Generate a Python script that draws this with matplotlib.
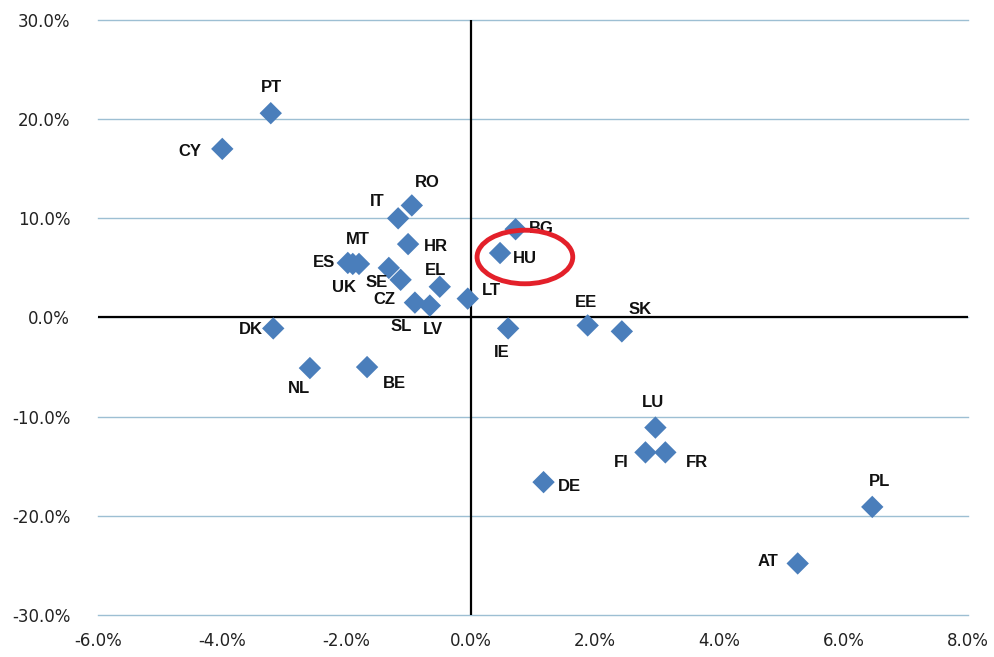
import matplotlib
matplotlib.use("Agg")
from matplotlib import pyplot as plt
from matplotlib.patches import Ellipse
from matplotlib.ticker import FuncFormatter

countries = ["PT", "CY", "RO", "IT", "HR", "MT", "ES", "UK", "SE", "CZ", "EL", "SL", "LV", "LT",
             "BG", "HU", "IE", "EE", "SK", "DK", "NL", "BE", "LU", "FI", "FR", "DE", "PL", "AT"]
x_vals = [-3.22, -4.0, -0.95, -1.17, -1.01, -1.8, -1.98, -1.9, -1.32, -1.13, -0.5, -0.9, -0.66, -0.05,
          0.72, 0.47, 0.6, 1.88, 2.43, -3.18, -2.59, -1.67, 2.97, 2.81, 3.13, 1.17, 6.46, 5.26]
y_vals = [20.6, 17.0, 11.3, 10.0, 7.4, 5.4, 5.5, 5.4, 5.0, 3.8, 3.1, 1.5, 1.2, 1.9,
          8.9, 6.5, -1.1, -0.8, -1.4, -1.1, -5.1, -5.0, -11.1, -13.6, -13.6, -16.6, -19.1, -24.8]
# label offsets in pixels from each point
label_dx = [1, -32, 16, -21, 28, -1, -24, -9, -12, -16, -4, -14, 3, 24,
            26, 25, -6, -2, 18, -22, -11, 27, -2, -24, 32, 26, 7, -30]
label_dy = [26, -3, 23, 17, -2, 24, 0, -24, -15, -20, 16, -24, -24, 8,
            1, -5, -24, 23, 22, -1, -20, -16, 25, -10, -10, -4, 25, 2]

fig = plt.figure(figsize=(9.94, 6.57), dpi=100)
ax = fig.add_axes([0.0986, 0.0639, 0.8752, 0.9057])

ax.set_xlim(-6, 8)
ax.set_ylim(-30, 30)
ax.set_xticks(range(-6, 9, 2))
ax.set_yticks(range(-30, 31, 10))
ax.yaxis.grid(True, color="#9dbfd3", linewidth=1)
for gl in ax.get_ygridlines():
    gl.set_clip_on(False)
ax.set_axisbelow(True)
for s in ax.spines.values():
    s.set_visible(False)
ax.axhline(0, color="black", linewidth=1.6, zorder=1)
ax.axvline(0, color="black", linewidth=1.6, zorder=1)

fmt = FuncFormatter(lambda v, p: "%.1f%%" % v)
ax.xaxis.set_major_formatter(fmt)
ax.yaxis.set_major_formatter(fmt)
ax.tick_params(axis="both", length=0, labelsize=12, labelcolor="#222222")
ax.tick_params(axis="y", pad=20)
ax.tick_params(axis="x", pad=12)

ax.scatter(x_vals, y_vals, marker="D", s=130, color="#4a7ebb", edgecolors="none", zorder=3)

for c, x, y, dx, dy in zip(countries, x_vals, y_vals, label_dx, label_dy):
    ax.annotate(c, (x, y), xytext=(dx, dy), textcoords="offset pixels",
                ha="center", va="center", fontsize=12, fontweight="bold",
                family="Liberation Sans", color="#111111", zorder=4)

ax.add_patch(Ellipse((0.87, 6.1), 1.54, 5.4, fill=False, edgecolor="#e3202a",
                     linewidth=3.5, zorder=5))

fig.savefig("out.png", dpi=100)
